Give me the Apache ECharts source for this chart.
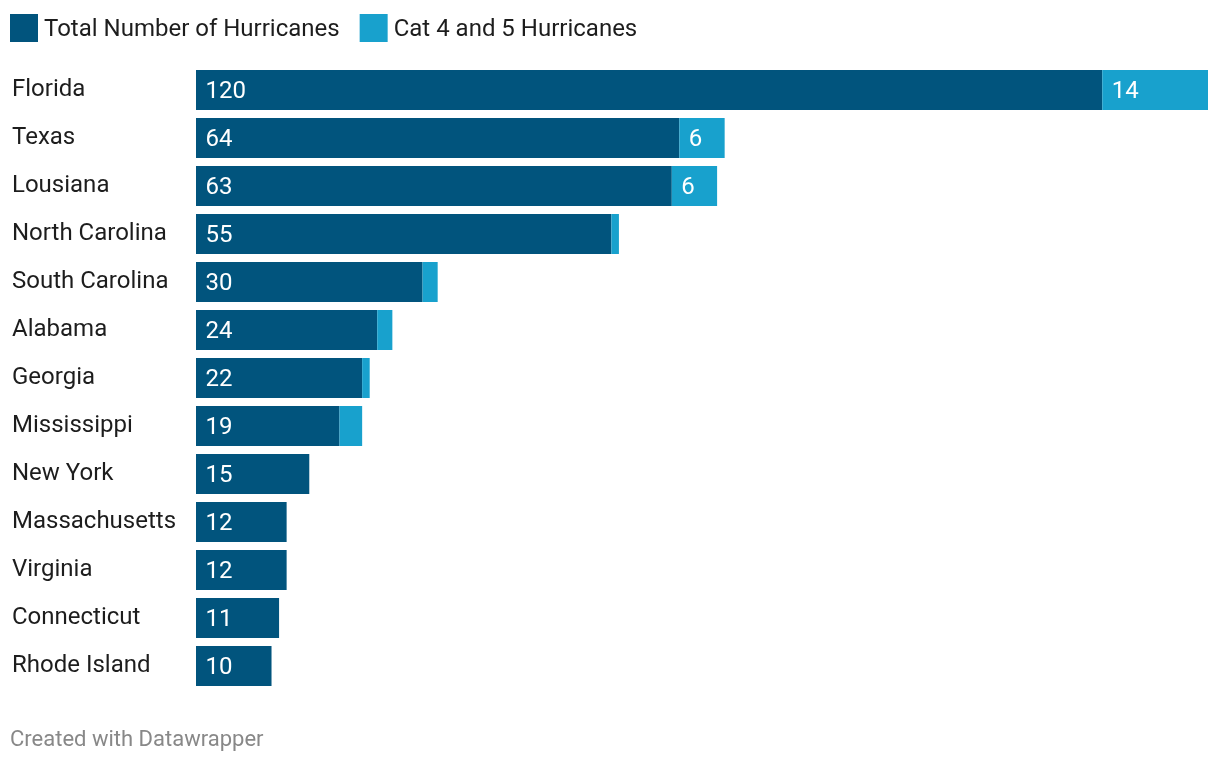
<!DOCTYPE html>
<html>
<head>
<meta charset="utf-8">
<style>
  html, body { margin: 0; padding: 0; background: #fff; }
  #chart { width: 1220px; height: 762px; }
</style>
<script src="https://cdn.jsdelivr.net/npm/echarts@6/dist/echarts.min.js"></script>
</head>
<body>
<div id="chart"></div>
<script>
'use strict';

const states = ['Florida', 'Texas', 'Lousiana', 'North Carolina', 'South Carolina', 'Alabama', 'Georgia',
    'Mississippi', 'New York', 'Massachusetts', 'Virginia', 'Connecticut', 'Rhode Island'];
const total = [120, 64, 63, 55, 30, 24, 22, 19, 15, 12, 12, 11, 10];
const cat45 = [14, 6, 6, 1, 2, 2, 1, 3, 0, 0, 0, 0, 0];

const FONT = 'Roboto';

const barLabel = (minValue) => ({
    show: true,
    position: 'insideLeft',
    distance: 9.5,
    offset: [0, 2],
    color: '#fff',
    fontFamily: FONT,
    fontSize: 24,
    // the thin segments have no room for a number
    formatter: (p) => (p.value >= minValue ? p.value : '')
});

const chart = echarts.init(document.getElementById('chart'));
chart.setOption({
    animation: false,
    backgroundColor: '#fff',
    title: {
        text: 'Created with Datawrapper',
        left: 10,
        top: 729,
        padding: 0,
        textStyle: {color: '#888', fontFamily: FONT, fontSize: 22, fontWeight: 'normal'}
    },
    legend: {
        left: 10,
        top: 14,
        padding: 0,
        itemWidth: 28,
        itemHeight: 28,
        itemGap: 20,
        icon: 'rect',
        formatter: '{t|{name}}',
        textStyle: {
            padding: [4, 0, 0, 1],
            rich: {t: {color: '#1d1d1d', fontFamily: FONT, fontSize: 24}}
        },
        data: ['Total Number of Hurricanes', 'Cat 4 and 5 Hurricanes']
    },
    grid: {left: 196, top: 66, width: 1012, height: 624},
    xAxis: {type: 'value', min: 0, max: 134, show: false},
    yAxis: {
        type: 'category',
        inverse: true,
        data: states,
        axisLine: {show: false},
        axisTick: {show: false},
        axisLabel: {
            margin: 184,
            align: 'left',
            color: '#1d1d1d',
            fontFamily: FONT,
            fontSize: 24
        }
    },
    series: [
        {
            name: 'Total Number of Hurricanes',
            type: 'bar',
            stack: 'all',
            barWidth: 40,
            itemStyle: {color: '#01547d'},
            label: barLabel(0),
            data: total
        },
        {
            name: 'Cat 4 and 5 Hurricanes',
            type: 'bar',
            stack: 'all',
            barWidth: 40,
            itemStyle: {color: '#18a1cd'},
            label: barLabel(6),
            data: cat45
        }
    ]
});
</script>
</body>
</html>
